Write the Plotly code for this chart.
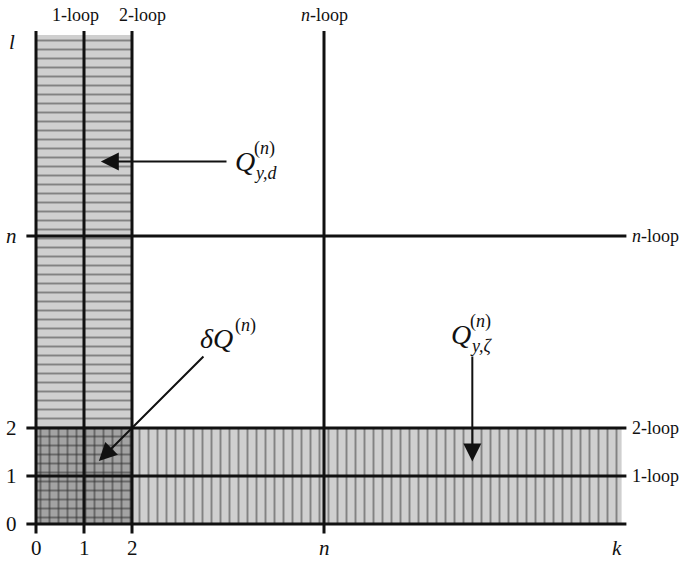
import plotly.graph_objects as go

# ---- data ----
n_val = 6
k_end = 12.2          # right end of shaded strip
l_end = 10.19         # top end of shaded column
loop_levels = [1, 2, n_val]
loop_names = ["1-loop", "2-loop", "<i>n</i>-loop"]
x_ticks = [0, 1, 2, n_val]
x_tick_labels = ["0", "1", "2", "<i>n</i>"]
y_ticks = [0, 1, 2, n_val]
y_tick_labels = ["0", "1", "2", "<i>n</i>"]

# regions: (x0, x1, y0, y1)
region_qyd = (0, 2, 2, l_end)
region_qyz = (2, k_end, 0, 2)
region_dq = (0, 2, 0, 2)

# arrows: tail -> head
arrow_qyd = ((4.0, 7.55), (1.35, 7.55))
arrow_dq = ((3.52, 3.52), (1.31, 1.31))
arrow_qyz = ((9.09, 3.52), (9.09, 1.30))

# ---- helpers ----
def px2x(px):
    return (px - 36) / 48.0

def px2y(py):
    return (524 - py) / 48.0

FONT = "Liberation Serif"
fig = go.Figure()

def rect_trace(reg, shape, bg, fg):
    x0, x1, y0, y1 = reg
    return go.Scatter(
        x=[x0, x1, x1, x0, x0], y=[y0, y0, y1, y1, y0],
        mode="lines", line=dict(width=0), fill="toself",
        fillcolor=bg,
        fillpattern=dict(shape=shape, size=9, solidity=0.22, fgcolor=fg, bgcolor=bg),
        hoverinfo="skip", showlegend=False)

fig.add_trace(rect_trace(region_qyd, "-", "#cfcfcf", "#363636"))
fig.add_trace(rect_trace(region_qyz, "|", "#cfcfcf", "#363636"))
fig.add_trace(rect_trace(region_dq, "-", "#a3a3a3", "#303030"))
fig.add_trace(rect_trace(region_dq, "|", "rgba(0,0,0,0)", "#303030"))

over = 0.2
line_style = dict(color="#111111", width=3)
# vertical lines
for xv in [0, 1, 2, n_val]:
    fig.add_trace(go.Scatter(x=[xv, xv], y=[-over, l_end + 0.08], mode="lines",
                             line=line_style, hoverinfo="skip", showlegend=False))
# horizontal lines
for yv in [0, 1, 2, n_val]:
    fig.add_trace(go.Scatter(x=[-over, k_end + 0.1], y=[yv, yv], mode="lines",
                             line=line_style, hoverinfo="skip", showlegend=False))

ann = []
# tick labels
for xv, lab in zip(x_ticks, x_tick_labels):
    ann.append(dict(x=xv, y=px2y(548), text=lab, showarrow=False,
                    font=dict(family=FONT, size=21, color="#111")))
ann.append(dict(x=px2x(617), y=px2y(548), text="<i>k</i>", showarrow=False,
                font=dict(family=FONT, size=21, color="#111")))
for yv, lab in zip(y_ticks, y_tick_labels):
    ann.append(dict(x=px2x(11), y=yv, text=lab, showarrow=False,
                    font=dict(family=FONT, size=21, color="#111")))
ann.append(dict(x=px2x(12), y=px2y(42), text="<i>l</i>", showarrow=False,
                font=dict(family=FONT, size=21, color="#111")))

# loop labels top (spread apart so they do not collide)
top_shift = [-9, 10, 0]
for xv, lab, sh in zip(loop_levels, loop_names, top_shift):
    ann.append(dict(x=xv, y=px2y(15), text=lab, showarrow=False, xshift=sh,
                    font=dict(family=FONT, size=18, color="#111")))
# loop labels right
for yv, lab in zip(loop_levels, loop_names):
    ann.append(dict(x=px2x(630), y=yv, text=lab, showarrow=False, xanchor="left",
                    font=dict(family=FONT, size=18, color="#111")))

# arrows
for (tail, head) in [arrow_qyd, arrow_dq, arrow_qyz]:
    ann.append(dict(x=head[0], y=head[1], ax=tail[0], ay=tail[1],
                    xref="x", yref="y", axref="x", ayref="y", text="",
                    showarrow=True, arrowhead=2, arrowsize=1.8, arrowwidth=2,
                    arrowcolor="#111"))

# math labels
def math_label(xq, yq, main, sup, sub, sup_dy=-13, sub_dy=12, main_w=19):
    out = [dict(x=px2x(xq), y=px2y(yq), text=main, showarrow=False, xanchor="left",
                font=dict(family=FONT, size=28, color="#111"))]
    if sup:
        out.append(dict(x=px2x(xq + main_w), y=px2y(yq + sup_dy), text=sup, showarrow=False,
                        xanchor="left", font=dict(family=FONT, size=18, color="#111")))
    if sub:
        out.append(dict(x=px2x(xq + main_w), y=px2y(yq + sub_dy), text=sub, showarrow=False,
                        xanchor="left", font=dict(family=FONT, size=18, color="#111")))
    return out

ann += math_label(233, 161, "<i>Q</i>", "(<i>n</i>)", "<i>y,d</i>")
ann += math_label(198, 338, "<i>δQ</i>", "(<i>n</i>)", None, main_w=35)
ann += math_label(449, 334, "<i>Q</i>", "(<i>n</i>)", "<i>y,ζ</i>")

fig.update_layout(
    width=681, height=561,
    margin=dict(l=0, r=0, t=0, b=0),
    paper_bgcolor="white", plot_bgcolor="white",
    font=dict(family=FONT),
    xaxis=dict(range=[px2x(0), px2x(681)], visible=False, fixedrange=True),
    yaxis=dict(range=[px2y(561), px2y(0)], visible=False, fixedrange=True),
    annotations=ann,
    showlegend=False,
)

fig.write_html("out.html", config={"displayModeBar": False},
               post_script="document.body.style.margin='0';document.body.style.overflow='hidden';")
